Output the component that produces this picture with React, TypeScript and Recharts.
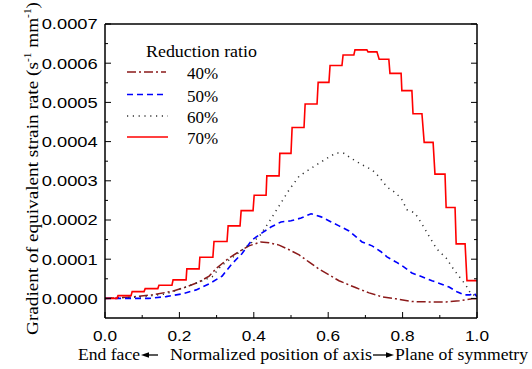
import React from 'react';
import { LineChart, Line, XAxis, YAxis, Legend } from 'recharts';

// ---------- data ----------
const seriesNames = ['40%', '50%', '60%', '70%'];
const legendTitle = 'Reduction ratio';
const xTitleParts = ['End face', 'Normalized position of axis', 'Plane of symmetry'];
const xMajorTicks = [0, 0.2, 0.4, 0.6, 0.8, 1.0];
const xMinorTicks = [0.1, 0.3, 0.5, 0.7, 0.9];
const yMajorTicks = [0, 0.0001, 0.0002, 0.0003, 0.0004, 0.0005, 0.0006, 0.0007];
const yMinorTicks = [0.00005, 0.00015, 0.00025, 0.00035, 0.00045, 0.00055, 0.00065];
const xDomain = [0, 1];
const yDomain = [-0.00005, 0.0007];

const ratio40: [number, number][] = [
  [0, 0], [0.073, 0.000004], [0.126, 0.000009], [0.18, 0.000018], [0.218, 0.000029],
  [0.253, 0.000042], [0.28, 0.000057], [0.301, 0.000078], [0.333, 0.000103], [0.36, 0.000119],
  [0.387, 0.000134], [0.419, 0.000144], [0.441, 0.000142], [0.468, 0.000136], [0.495, 0.000124],
  [0.522, 0.000111], [0.548, 0.000093], [0.575, 0.000075], [0.602, 0.00006], [0.629, 0.000045],
  [0.675, 0.000027], [0.71, 0.000014], [0.745, 0.000004], [0.782, -0.000001], [0.825, -0.000008],
  [0.871, -0.000009], [0.917, -0.000009], [0.952, -0.000006], [0.987, -0.000001], [1.0, -0.000001],
];

const ratio50: [number, number][] = [
  [0, 0], [0.118, 0], [0.164, 0.0000046], [0.207, 0.0000115], [0.245, 0.0000217],
  [0.28, 0.000037], [0.315, 0.000057], [0.341, 0.000088], [0.368, 0.000114], [0.395, 0.000149],
  [0.422, 0.000167], [0.446, 0.000182], [0.473, 0.000195], [0.5, 0.000198], [0.527, 0.000205],
  [0.554, 0.000216], [0.581, 0.000208], [0.608, 0.000195], [0.629, 0.000185], [0.656, 0.000172],
  [0.675, 0.000157], [0.691, 0.000144], [0.718, 0.000134], [0.742, 0.000119], [0.758, 0.000106],
  [0.782, 0.000093], [0.804, 0.00008], [0.825, 0.000065], [0.852, 0.000055], [0.879, 0.000045],
  [0.903, 0.000037], [0.925, 0.000029], [0.946, 0.000017], [0.965, 0.000009], [0.981, 0.000009],
  [0.992, 0.000014], [1.0, 0.000004],
];

const ratio60: [number, number][] = [
  [0, 0], [0.099, 0.000004], [0.164, 0.0000115], [0.218, 0.0000293], [0.253, 0.000042],
  [0.288, 0.000055], [0.312, 0.000083], [0.341, 0.000103], [0.379, 0.000131], [0.414, 0.000157],
  [0.441, 0.000195], [0.468, 0.000236], [0.495, 0.000277], [0.522, 0.000312], [0.556, 0.000333],
  [0.594, 0.000356], [0.621, 0.000371], [0.642, 0.00037], [0.664, 0.000356], [0.691, 0.000341],
  [0.718, 0.000328], [0.737, 0.00031], [0.758, 0.000284], [0.777, 0.000272], [0.796, 0.000256],
  [0.812, 0.000226], [0.833, 0.000218], [0.852, 0.00019], [0.871, 0.000159], [0.892, 0.000126],
  [0.917, 0.000103], [0.933, 0.00008], [0.946, 0.000063], [0.97, 0.000034], [0.984, 0.000011],
  [1.0, 0.000006],
];

const ratio70: [number, number][] = [
  [0, 0], [0.032, 0], [0.035, 0.0000071], [0.07, 0.0000071], [0.073, 0.0000173], [0.105, 0.0000173],
  [0.108, 0.000025], [0.142, 0.000025], [0.145, 0.0000337], [0.18, 0.0000337], [0.183, 0.0000472],
  [0.218, 0.0000472], [0.22, 0.0000753], [0.253, 0.0000753], [0.255, 0.000105], [0.29, 0.000105],
  [0.293, 0.000145], [0.328, 0.000145], [0.331, 0.000185], [0.363, 0.000185], [0.366, 0.000224],
  [0.398, 0.000224], [0.401, 0.000263], [0.433, 0.000263], [0.435, 0.0003125], [0.468, 0.0003125],
  [0.47, 0.00037], [0.5, 0.00037], [0.503, 0.000436], [0.535, 0.000436], [0.538, 0.000496],
  [0.57, 0.000496], [0.573, 0.000551], [0.602, 0.000551], [0.605, 0.000594], [0.637, 0.000594],
  [0.64, 0.000621], [0.669, 0.000621], [0.672, 0.000634], [0.704, 0.000634], [0.707, 0.000629],
  [0.731, 0.000629], [0.737, 0.00061], [0.763, 0.00061], [0.766, 0.000574], [0.796, 0.000574],
  [0.798, 0.00053], [0.825, 0.00053], [0.828, 0.000471], [0.852, 0.000471], [0.858, 0.000398],
  [0.882, 0.000398], [0.887, 0.000317], [0.914, 0.000317], [0.917, 0.000232], [0.941, 0.000232],
  [0.944, 0.000139], [0.968, 0.000139], [0.973, 0.0000454], [1.0, 0.0000454],
];

const toRows = (pts: [number, number][]) => pts.map(([x, y]) => ({ x, y }));

const seriesStyles = [
  { color: '#8b1a1a', dash: '9 3 2 3', width: 1.5 },
  { color: '#0000ff', dash: '6 4', width: 1.6 },
  { color: '#333333', dash: '1.2 4.6', width: 1.5 },
  { color: '#ff0000', dash: undefined as string | undefined, width: 1.6 },
];
const seriesData = [ratio40, ratio50, ratio60, ratio70];

const SANS = "'Liberation Sans', Arial, sans-serif";
const SERIF = "'Liberation Serif', 'Times New Roman', serif";

const xAllTicks = [...xMajorTicks, ...xMinorTicks].sort((a, b) => a - b);
const yAllTicks = [...yMajorTicks, ...yMinorTicks].sort((a, b) => a - b);
const isMajor = (list: number[], v: number) => list.some((m) => Math.abs(m - v) < 1e-9);

// tick renderers: (x, y) is the axis-line position (tickSize = tickMargin = 0)
const BottomTick = (props: any) => {
  const { x, y, payload } = props;
  const major = isMajor(xMajorTicks, payload.value);
  return (
    <g>
      <line x1={x} y1={y} x2={x} y2={y - (major ? 6 : 3)} stroke="#000" strokeWidth={1} />
      {major && (
        <text x={x} y={y + 22.7} textAnchor="middle" fontFamily={SANS} fontSize={15} fill="#000"
          textLength={24} lengthAdjust="spacingAndGlyphs">
          {Number(payload.value).toFixed(1)}
        </text>
      )}
    </g>
  );
};
const TopTick = (props: any) => {
  const { x, y, payload } = props;
  const major = isMajor(xMajorTicks, payload.value);
  return <line x1={x} y1={y} x2={x} y2={y + (major ? 6 : 3)} stroke="#000" strokeWidth={1} />;
};
const LeftTick = (props: any) => {
  const { x, y, payload } = props;
  const major = isMajor(yMajorTicks, payload.value);
  return (
    <g>
      <line x1={x} y1={y} x2={x + (major ? 6 : 3)} y2={y} stroke="#000" strokeWidth={1} />
      {major && (
        <text x={x - 7.3} y={y + 5.3} textAnchor="end" fontFamily={SANS} fontSize={15} fill="#000"
          textLength={56} lengthAdjust="spacingAndGlyphs">
          {Number(payload.value).toFixed(4)}
        </text>
      )}
    </g>
  );
};
const RightTick = (props: any) => {
  const { x, y, payload } = props;
  const major = isMajor(yMajorTicks, payload.value);
  return <line x1={x} y1={y} x2={x - (major ? 6 : 3)} y2={y} stroke="#000" strokeWidth={1} />;
};

const Overlay = () => {
  const lineYs = [72, 94.5, 116, 137];
  return (
    <svg width={532} height={369} style={{ position: 'absolute', left: 0, top: 0 }}>
      {/* y-axis title */}
      <text transform="translate(37.5,168.5) rotate(-90)" textAnchor="middle" fontFamily={SERIF}
        fontSize={17} fill="#000" textLength={333} lengthAdjust="spacingAndGlyphs">
        Gradient of equivalent strain rate (s
        <tspan dy={-7} fontSize={10}>-1</tspan>
        <tspan dy={7}> mm</tspan>
        <tspan dy={-7} fontSize={10}>-1</tspan>
        <tspan dy={7}>)</tspan>
      </text>
      {/* x-axis title */}
      <text x={78} y={360} fontFamily={SERIF} fontSize={17} fill="#000" textLength={62} lengthAdjust="spacingAndGlyphs">{xTitleParts[0]}</text>
      <line x1={147} y1={355} x2={158} y2={355} stroke="#000" strokeWidth={1.3} />
      <polygon points="141,355 149,352.3 149,357.7" fill="#000" />
      <text x={170} y={360} fontFamily={SERIF} fontSize={17} fill="#000" textLength={202} lengthAdjust="spacingAndGlyphs">{xTitleParts[1]}</text>
      <line x1={373} y1={355} x2={387} y2={355} stroke="#000" strokeWidth={1.3} />
      <polygon points="394,355 386,352.3 386,357.7" fill="#000" />
      <text x={395} y={360} fontFamily={SERIF} fontSize={17} fill="#000" textLength={133} lengthAdjust="spacingAndGlyphs">{xTitleParts[2]}</text>
      {/* legend */}
      <text x={146} y={57} fontFamily={SERIF} fontSize={17.5} fill="#000" textLength={111} lengthAdjust="spacingAndGlyphs">{legendTitle}</text>
      {seriesNames.map((name, i) => (
        <g key={name}>
          <line x1={127} y1={lineYs[i]} x2={i < 2 ? 166 : 168} y2={lineYs[i]} stroke={seriesStyles[i].color}
            strokeWidth={seriesStyles[i].width} strokeDasharray={seriesStyles[i].dash} />
          <text x={187} y={lineYs[i] + 7} fontFamily={SERIF} fontSize={17} fill="#000">{name}</text>
        </g>
      ))}
    </svg>
  );
};

export default function App() {
  const axisLine = { stroke: '#000', strokeWidth: 1.5 };
  return (
    <div style={{ position: 'absolute', left: 0, top: 0, width: 532, height: 369, background: '#fff' }}>
      <LineChart width={532} height={369} margin={{ top: 23, right: 54, bottom: 21, left: 45 }}>
        <XAxis xAxisId={0} dataKey="x" type="number" domain={xDomain} ticks={xAllTicks} interval={0}
          allowDataOverflow height={30} tickSize={0} tickMargin={0} axisLine={axisLine} tickLine={false}
          tick={<BottomTick />} />
        <YAxis yAxisId={0} type="number" domain={yDomain} ticks={yAllTicks} interval={0}
          allowDataOverflow width={60} tickSize={0} tickMargin={0} axisLine={axisLine} tickLine={false}
          tick={<LeftTick />} />
        <XAxis xAxisId="xtop" orientation="top" type="number" domain={xDomain} ticks={xAllTicks} interval={0}
          allowDataOverflow height={1} tickSize={0} tickMargin={0} axisLine={axisLine} tickLine={false}
          tick={<TopTick />} />
        <YAxis yAxisId="yright" orientation="right" type="number" domain={yDomain} ticks={yAllTicks} interval={0}
          allowDataOverflow width={1} tickSize={0} tickMargin={0} axisLine={axisLine} tickLine={false}
          tick={<RightTick />} />

        <Legend layout="vertical" align="center" verticalAlign="middle" content={<Overlay />}
          wrapperStyle={{ position: 'absolute', left: 0, top: 0, width: 532, height: 369, pointerEvents: 'none' }} />

        {seriesNames.map((name, i) => (
          <Line key={name} name={name} data={toRows(seriesData[i])} dataKey="y" xAxisId={0} yAxisId={0}
            type="linear" stroke={seriesStyles[i].color} strokeWidth={seriesStyles[i].width}
            strokeDasharray={seriesStyles[i].dash} dot={false} activeDot={false} isAnimationActive={false} />
        ))}
      </LineChart>
    </div>
  );
}
